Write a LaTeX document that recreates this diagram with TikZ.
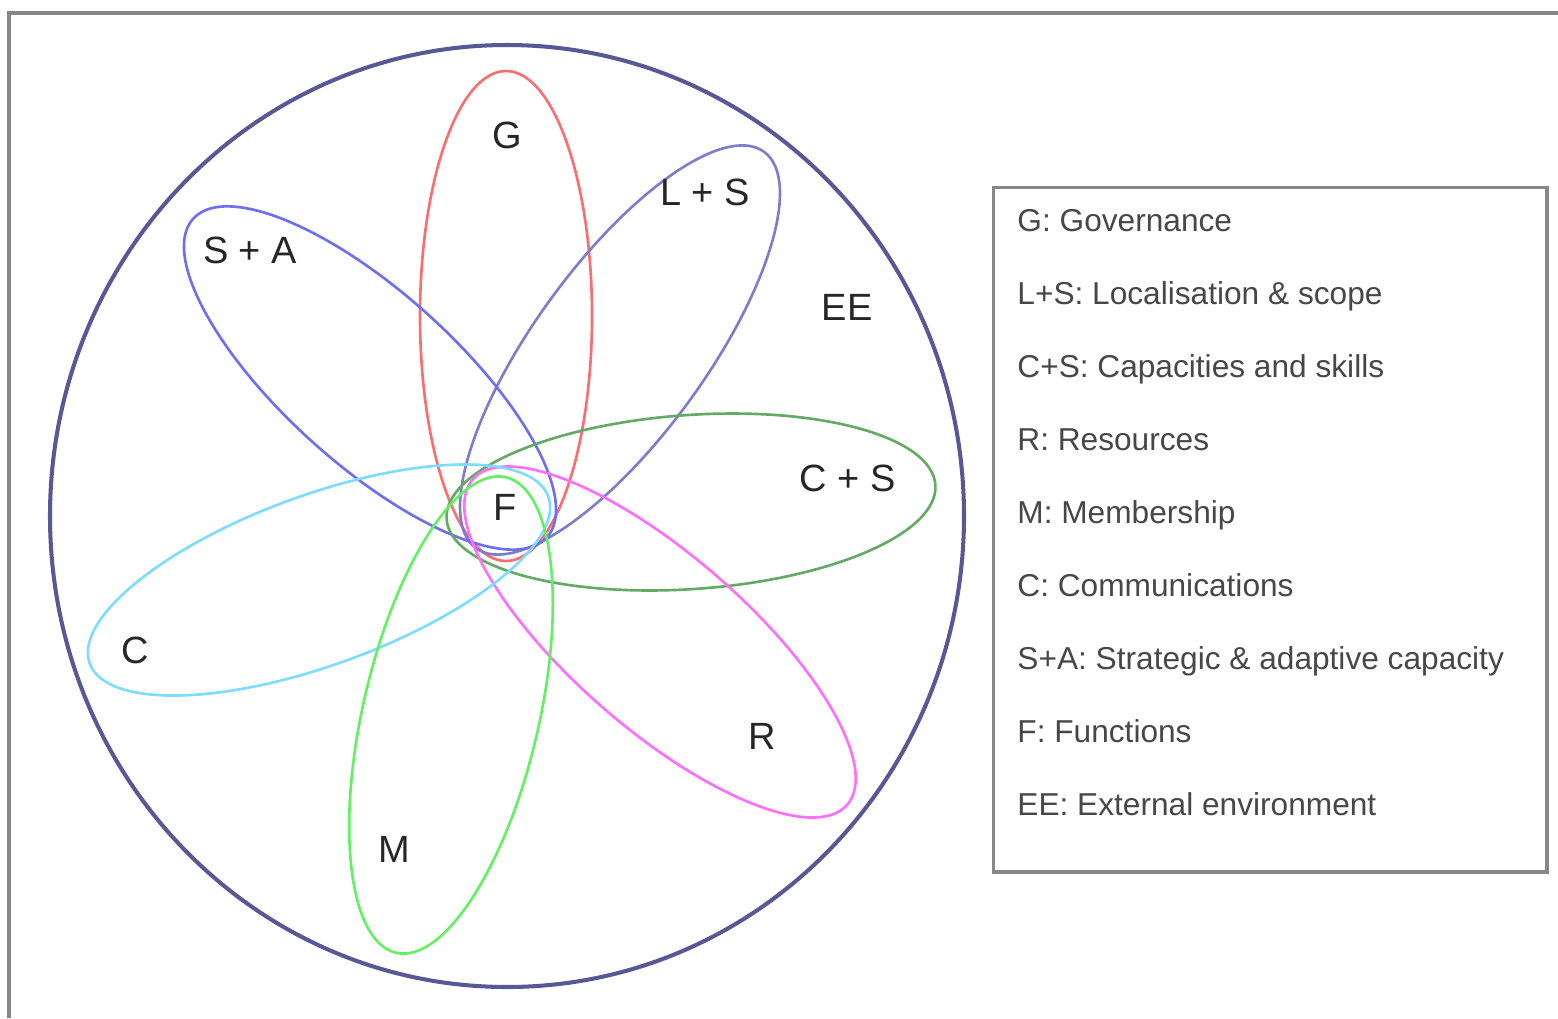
\documentclass[tikz,border=0pt]{standalone}
\usepackage{fontspec}
\setmainfont{Liberation Sans}
\definecolor{outerc}{RGB}{88,88,150}
\definecolor{gc}{RGB}{250,110,110}
\definecolor{lsc}{RGB}{125,125,205}
\definecolor{sac}{RGB}{110,110,240}
\definecolor{csc}{RGB}{100,170,100}
\definecolor{rc}{RGB}{255,110,255}
\definecolor{cc}{RGB}{125,220,255}
\definecolor{mc}{RGB}{100,240,100}
\definecolor{framec}{RGB}{135,135,135}
\begin{document}
\begin{tikzpicture}[x=0.01cm, y=-0.01cm,
      lbl/.style={font=\fontsize{10.8}{13}\selectfont, text=black!85},
      key/.style={anchor=base west, font=\fontsize{9}{11}\selectfont, text=black!72}]
   \useasboundingbox (0,0) rectangle (1558,1018);
   \draw[framec, line width=1pt] (1558,13) -- (9,13) -- (9,1018);
   \begin{scope}
      \def \Petals {
         gc/506/316/90/245/86,
         lsc/620/350/54/245/86,
         sac/370/378/-42/238/86,
         csc/691/502/4/245/87,
         rc/660/642/-41/248/87,
         cc/319/580/20/244/85,
         mc/451/715/77/244/88}
      \foreach \col / \x / \y / \a / \rx / \ry in \Petals {
         \draw[\col, line width=0.75pt, rotate around={\a:(\x,\y)}] (\x,\y) ellipse [x radius=\rx, y radius=\ry];
      }
      \draw[outerc, line width=1.15pt] (507,516) ellipse [x radius=457, y radius=471];
      \def \Labels {
         G/507/135/G,
         LS/705/192/L + S,
         SA/250/250/S + A,
         EE/847/307/EE,
         CS/848/478/C + S,
         F/505/507/F,
         C/135/650/C,
         R/762/736/R,
         M/394/849/M}
      \foreach \u / \x / \y / \n in \Labels {
         \node[lbl] (\u) at (\x,\y) {\n};
      }
   \end{scope}
   \begin{scope}
      \node[draw=framec, line width=0.9pt, anchor=north west, inner sep=0,
         minimum width=5.53cm, minimum height=6.84cm] (legend) at (992,186) {};
      \foreach \k [count=\i from 0] in {G: Governance, L+S: Localisation \& scope,
            C+S: Capacities and skills, R: Resources, M: Membership,
            C: Communications, S+A: Strategic \& adaptive capacity,
            F: Functions, EE: External environment} {
         \node[key] (key\i) at (1005, 231+73*\i) {\k};
      }
   \end{scope}
\end{tikzpicture}
\end{document}
